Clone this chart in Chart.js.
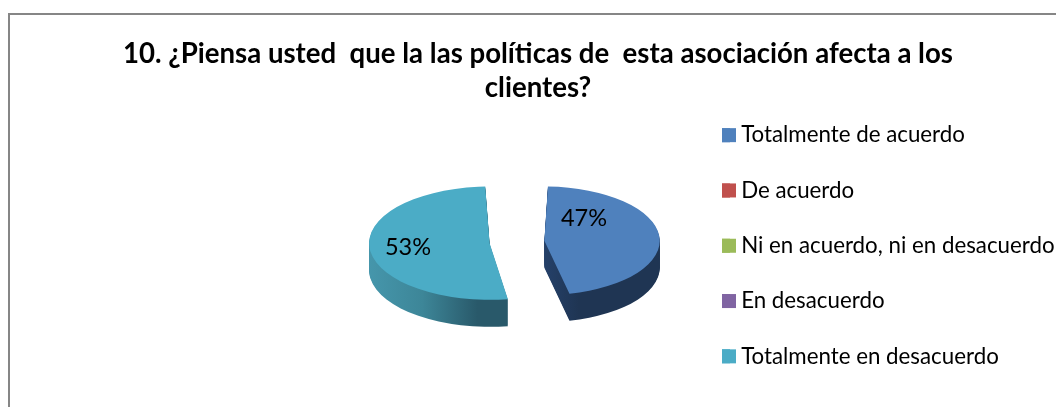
<!DOCTYPE html>
<html>
<head>
<meta charset="utf-8">
<script src="https://cdn.jsdelivr.net/npm/chart.js@4"></script>
<style>
    html, body { margin: 0; padding: 0; background: #fff; overflow: hidden; }
    #frame { position: absolute; left: 8px; top: 13px; width: 1100px; height: 500px; border: 1px solid #868686; border-width: 2px 0 0 2px; }
    canvas { position: absolute; left: 0; top: 0; }
</style>
</head>
<body>
<div id="frame"></div>
<canvas id="chart" width="1056" height="407"></canvas>
<script>
const titleLines = [
    '10. ¿Piensa usted  que la las políticas de  esta asociación afecta a los',
    'clientes?',
];
const categories = [
    'Totalmente de acuerdo',
    'De acuerdo',
    'Ni en acuerdo, ni en desacuerdo',
    'En desacuerdo',
    'Totalmente en desacuerdo',
];
const shares = [47, 0, 0, 0, 53];
const colors = ['#4F81BD', '#C0504D', '#9BBB59', '#8064A2', '#4BACC6'];

const squash = 0.47;
const depth = 27;
const labelOffsets = { 0: [67, -24], 4: [-109, 5] };

const wallFill = (ctx, index) => {
    const g = ctx.createLinearGradient(index === 0 ? 515 : 367, 0, index === 0 ? 661 : 505, 0);
    if (index === 0) {
        g.addColorStop(0, '#25416a');
        g.addColorStop(0.25, '#1f3553');
        g.addColorStop(1, '#1f3553');
    } else {
        g.addColorStop(0, '#4a9fb6');
        g.addColorStop(0.6, '#3d8698');
        g.addColorStop(1, '#29596a');
    }
    return g;
};

// squashes the pie into an ellipse and extrudes the side walls under it
const tiltPie = {
    id: 'tiltPie',
    afterLayout(chart) {
        Object.assign(chart.chartArea, { left: 397, right: 637, top: 122, bottom: 362, width: 240, height: 240 });
        chart.titleBlock.top += 38;
        chart.titleBlock.bottom += 38;
        const legend = chart.legend;
        const pad = legend.options.labels.padding;
        legend.left = 722 - pad;
        legend.right = legend.left + legend.width;
        legend.top = 91;
        legend.bottom = 91 + legend.height;
    },
    beforeDatasetsDraw(chart) {
        const { ctx } = chart;
        const arcs = chart.getDatasetMeta(0).data;
        const cy = arcs[0].y;
        ctx.save();
        for (let d = depth; d > 0; d--) {
            ctx.save();
            ctx.translate(0, cy + d);
            ctx.scale(1, squash);
            ctx.translate(0, -cy);
            arcs.forEach((arc, i) => {
                const saved = arc.options;
                arc.options = Object.assign(Object.create(saved), { backgroundColor: wallFill(ctx, i) });
                arc.draw(ctx);
                arc.options = saved;
            });
            ctx.restore();
        }
        ctx.translate(0, cy);
        ctx.scale(1, squash);
        ctx.translate(0, -cy);
    },
    afterDatasetsDraw(chart) {
        const { ctx } = chart;
        ctx.restore();
        const arcs = chart.getDatasetMeta(0).data;
        ctx.save();
        ctx.fillStyle = '#000';
        ctx.font = '23.5px Lato';
        ctx.textAlign = 'center';
        ctx.textBaseline = 'middle';
        shares.forEach((v, i) => {
            if (!v) return;
            const [dx, dy] = labelOffsets[i];
            ctx.fillText(v + '%', arcs[i].x + dx, arcs[i].y + dy);
        });
        ctx.restore();
    },
    // legend boxes are set narrow so the text sits close; widen them back here
    afterDraw(chart) {
        const { ctx, legend } = chart;
        const { padding, font } = legend.options.labels;
        categories.forEach((c, i) => {
            const rowMid = legend.top + padding + i * (font.size + padding) + font.size / 2;
            ctx.fillStyle = colors[i];
            ctx.fillRect(legend.left + padding, rowMid - 7, 14, 14);
        });
    },
};

Chart.defaults.font.family = 'Lato';
Chart.defaults.color = '#000';

new Chart(document.getElementById('chart'), {
    type: 'pie',
    data: {
        labels: categories,
        datasets: [{
            data: shares,
            backgroundColor: colors,
            borderWidth: 0,
            offset: 110,
            clip: false,
        }],
    },
    options: {
        responsive: false,
        animation: false,
        events: [],
        radius: 93,
        layout: { padding: { left: 20 } },
        plugins: {
            title: {
                display: true,
                text: titleLines,
                color: '#000',
                font: { size: 27.6, weight: 'bold', lineHeight: 1.2 },
                padding: 0,
            },
            legend: {
                position: 'right',
                align: 'start',
                labels: {
                    boxWidth: 8,
                    boxHeight: 14,
                    padding: 33,
                    font: { size: 22.3 },
                    color: '#000',
                },
            },
            tooltip: { enabled: false },
        },
    },
    plugins: [tiltPie],
});
</script>
</body>
</html>
